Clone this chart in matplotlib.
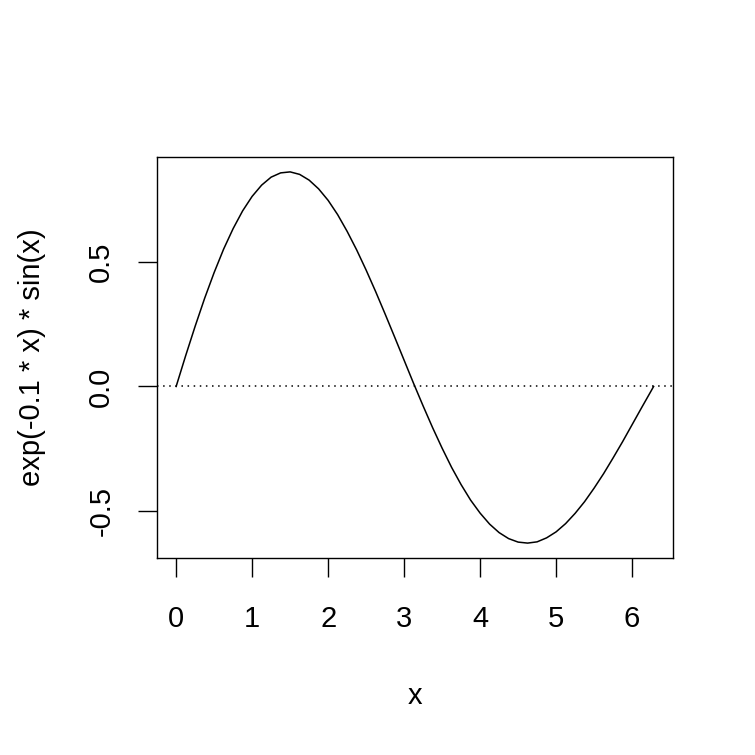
import matplotlib
matplotlib.use("Agg")
import matplotlib.pyplot as plt

plt.rcParams['font.family'] = ['Liberation Sans', 'DejaVu Sans']
plt.rcParams['axes.unicode_minus'] = False

# values
x_vals = [0.0, 0.125, 0.25, 0.375, 0.5, 0.625, 0.75, 0.875, 1.0, 1.125, 1.25,
          1.375, 1.5, 1.625, 1.75, 1.875, 2.0, 2.125, 2.25, 2.375, 2.5, 2.625,
          2.75, 2.875, 3.0, 3.125, 3.25, 3.375, 3.5, 3.625, 3.75, 3.875, 4.0,
          4.125, 4.25, 4.375, 4.5, 4.625, 4.75, 4.875, 5.0, 5.125, 5.25, 5.375,
          5.5, 5.625, 5.75, 5.875, 6.0, 6.125, 6.25, 6.283]
y_vals = [0.0, 0.123, 0.241, 0.353, 0.456, 0.550, 0.632, 0.703, 0.761, 0.806,
          0.838, 0.855, 0.859, 0.849, 0.826, 0.791, 0.745, 0.688, 0.621, 0.547,
          0.466, 0.380, 0.290, 0.198, 0.105, 0.012, -0.078, -0.165, -0.247,
          -0.324, -0.393, -0.455, -0.507, -0.551, -0.585, -0.609, -0.623,
          -0.627, -0.622, -0.606, -0.582, -0.549, -0.508, -0.461, -0.407,
          -0.349, -0.286, -0.221, -0.153, -0.085, -0.018, 0.0]
x_ticks = [0, 1, 2, 3, 4, 5, 6]
y_ticks = [-0.5, 0.0, 0.5]
y_tick_labels = ["-0.5", "0.0", "0.5"]

fig = plt.figure(figsize=(7.55, 7.55), dpi=100)
ax = fig.add_axes([0.208, 0.261, 0.683, 0.531])

ax.plot(x_vals, y_vals, color='black', linewidth=1.1)
ax.axhline(0, color='black', linestyle=(0, (1, 3)), linewidth=1.1)
ax.margins(0.04)

ax.set_xticks(x_ticks)
ax.set_yticks(y_ticks)
ax.set_yticklabels(y_tick_labels, rotation=90, va='center')
ax.tick_params(direction='out', length=13.5, width=1.0, labelsize=21)
ax.tick_params(axis='x', pad=20.5)
ax.tick_params(axis='y', pad=16.5)

for s in ax.spines.values():
    s.set_linewidth(1.0)

ax.set_xlabel("x", fontsize=21, labelpad=35)
ax.set_ylabel("exp(-0.1 * x) * sin(x)", fontsize=21, labelpad=30)

fig.savefig("out.png", dpi=100)
